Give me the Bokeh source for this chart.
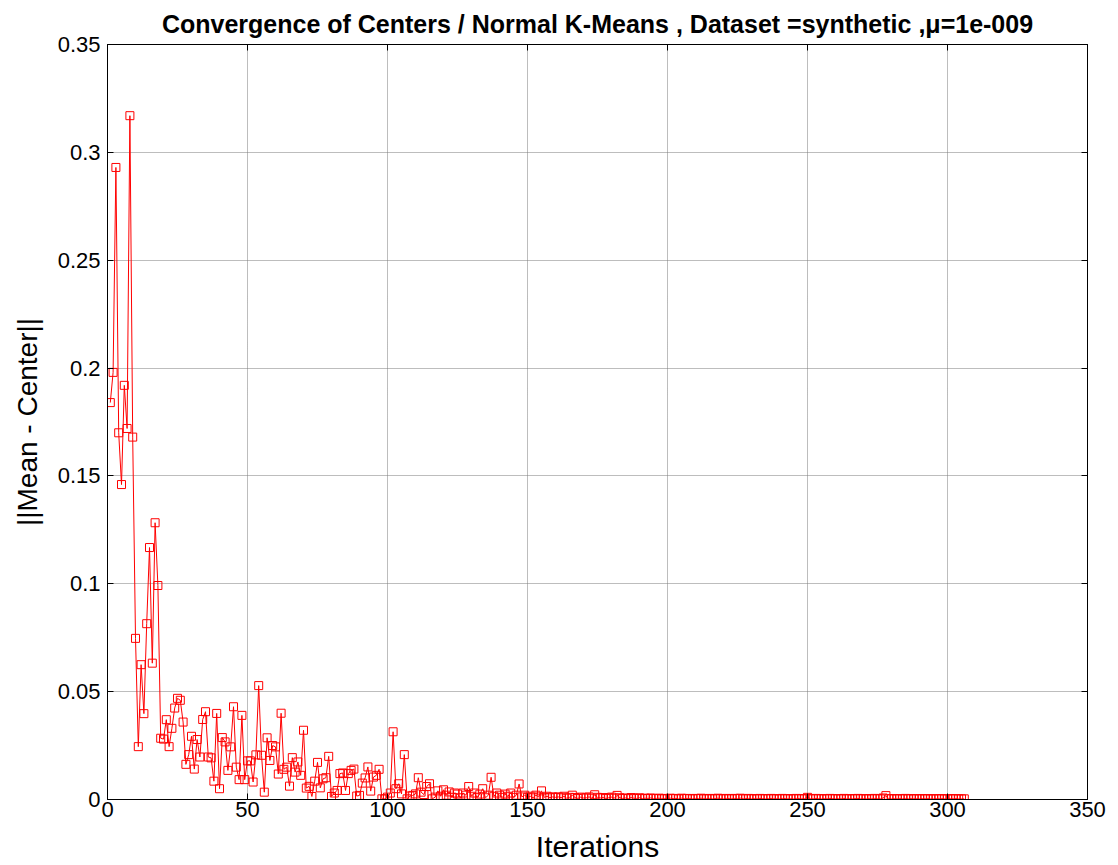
from bokeh.plotting import figure
from bokeh.models import FixedTicker, LinearAxis, Range1d
from bokeh.embed import file_html
from bokeh.resources import INLINE

# ||Mean - Center|| per iteration of normal K-Means on the synthetic dataset
distance = [
    0.184, 0.198, 0.293, 0.170, 0.146, 0.192, 0.172, 0.317, 0.168, 0.0747,
    0.0245, 0.0625, 0.0398, 0.0815, 0.1168, 0.0632, 0.1283, 0.0992, 0.0284, 0.0280,
    0.0370, 0.0245, 0.0330, 0.0424, 0.0469, 0.0460, 0.0359, 0.0163, 0.0208, 0.0293,
    0.0141, 0.0278, 0.0197, 0.0371, 0.0407, 0.0197, 0.0193, 0.0085, 0.0399, 0.0050,
    0.0287, 0.0267, 0.0135, 0.0244, 0.0430, 0.0150, 0.0092, 0.0390, 0.0092, 0.0179,
    0.0179, 0.0081, 0.0207, 0.0528, 0.0205, 0.0034, 0.0286, 0.0181, 0.0250, 0.0244,
    0.0118, 0.0400, 0.0140, 0.0150, 0.0062, 0.0194, 0.0127, 0.0174, 0.0112, 0.0321,
    0.0053, 0.0061, 0.0014, 0.0085, 0.0172, 0.0054, 0.0096, 0.0101, 0.0200, 0.0014,
    0.0030, 0.0042, 0.0120, 0.0123, 0.0042, 0.0120, 0.0135, 0.0141, 0.0016, 0.0019,
    0.0076, 0.0100, 0.0151, 0.0039, 0.0104, 0.0112, 0.0140, 0.0003, 0.0003, 0.0011,
    0.0030, 0.0314, 0.0050, 0.0073, 0.0026, 0.0208, 0.0003, 0.0016, 0.0019, 0.0026,
    0.0101, 0.0034, 0.0023, 0.0060, 0.0073, 0.0003, 0.0011, 0.0040, 0.0015, 0.0045,
    0.0020, 0.0035, 0.0010, 0.0030, 0.0025, 0.0008, 0.0030, 0.0020, 0.0060, 0.0015,
    0.0030, 0.0010, 0.0025, 0.0050, 0.0008, 0.0020, 0.0103, 0.0015, 0.0030, 0.0020,
    0.0010, 0.0025, 0.0015, 0.0030, 0.0010, 0.0020, 0.0072, 0.0012, 0.0020, 0.0010,
    0.0015, 0.0008, 0.0020, 0.0012, 0.0040, 0.0010, 0.0015, 0.0008, 0.0012, 0.0010,
    0.0012, 0.0008, 0.0015, 0.0006, 0.0010, 0.0020, 0.0009, 0.0005, 0.0011, 0.0007,
    0.0008, 0.0012, 0.0006, 0.0022, 0.0010, 0.0007, 0.0009, 0.0005, 0.0008, 0.0011,
    0.0006, 0.0019, 0.0008, 0.0005, 0.0007, 0.0004, 0.0009, 0.0006, 0.0005, 0.0008,
    0.0004, 0.0006, 0.0005, 0.0007, 0.0004, 0.0005, 0.0006, 0.0003, 0.0005, 0.0004,
    0.0006, 0.0004, 0.0005, 0.0003, 0.0006, 0.0004, 0.0005, 0.0004, 0.0003, 0.0005,
    0.0004, 0.0006, 0.0003, 0.0004, 0.0005, 0.0003, 0.0004, 0.0006, 0.0004, 0.0003,
    0.0005, 0.0004, 0.0003, 0.0005, 0.0004, 0.0006, 0.0003, 0.0004, 0.0005, 0.0003,
    0.0004, 0.0003, 0.0005, 0.0004, 0.0003, 0.0004, 0.0005, 0.0003, 0.0004, 0.0003,
    0.0005, 0.0004, 0.0003, 0.0004, 0.0003, 0.0005, 0.0004, 0.0003, 0.0004, 0.0010,
    0.0004, 0.0003, 0.0005, 0.0004, 0.0003, 0.0004, 0.0003, 0.0005, 0.0004, 0.0003,
    0.0004, 0.0003, 0.0005, 0.0003, 0.0004, 0.0003, 0.0004, 0.0005, 0.0003, 0.0004,
    0.0003, 0.0004, 0.0003, 0.0005, 0.0004, 0.0003, 0.0007, 0.0018, 0.0004, 0.0003,
    0.0004, 0.0003, 0.0004, 0.0003, 0.0005, 0.0003, 0.0004, 0.0003, 0.0004, 0.0003,
    0.0004, 0.0003, 0.0004, 0.0003, 0.0003, 0.0004, 0.0003, 0.0004, 0.0003, 0.0003,
    0.0004, 0.0003, 0.0004, 0.0003, 0.0003, 0.0003,
]
iterations = list(range(1, len(distance) + 1))

x_ticks = [0, 50, 100, 150, 200, 250, 300, 350]
y_ticks = [0, 0.05, 0.1, 0.15, 0.2, 0.25, 0.3, 0.35]
y_tick_labels = ["0", "0.05", "0.1", "0.15", "0.2", "0.25", "0.3", "0.35"]

FONT = "Liberation Sans"

p = figure(
    width=1118, height=865,
    output_backend="svg", toolbar_location=None,
    x_range=Range1d(0, 350), y_range=Range1d(0, 0.35),
    min_border_left=107, min_border_right=31,
    min_border_top=43, min_border_bottom=66,
    title="Convergence of Centers / Normal K-Means , Dataset =synthetic ,\u03bc=1e-009",
)
p.background_fill_color = "white"
p.border_fill_color = "white"
p.outline_line_color = "black"
p.outline_line_width = 1

p.title.text_font = FONT
p.title.text_font_size = "25px"
p.title.text_font_style = "bold"
p.title.text_color = "black"
p.title.align = "center"
p.title.standoff = 14

# grid
for g in (p.xgrid, p.ygrid):
    g.grid_line_color = "#7a7a7a"
    g.grid_line_dash = "1 1"
    g.grid_line_width = 1
p.xgrid.ticker = FixedTicker(ticks=x_ticks)
p.ygrid.ticker = FixedTicker(ticks=y_ticks)

# bottom and left axes
xa = p.xaxis[0]
ya = p.yaxis[0]
xa.ticker = FixedTicker(ticks=x_ticks)
ya.ticker = FixedTicker(ticks=y_ticks)
ya.major_label_overrides = {t: s for t, s in zip(y_ticks, y_tick_labels)}
xa.axis_label = "Iterations"
ya.axis_label = "||Mean - Center||"
for ax in (xa, ya):
    ax.axis_line_color = "black"
    ax.axis_line_width = 1
    ax.major_tick_line_color = "black"
    ax.major_tick_in = 6
    ax.major_tick_out = 0
    ax.minor_tick_line_color = None
    ax.major_label_text_font = FONT
    ax.major_label_text_font_size = "22px"
    ax.major_label_text_color = "black"
    ax.axis_label_text_font = FONT
    ax.axis_label_text_font_style = "normal"
    ax.axis_label_text_color = "black"
xa.axis_label_text_font_size = "30px"
ya.axis_label_text_font_size = "28px"
xa.major_label_standoff = 2
xa.axis_label_standoff = 10
ya.major_label_standoff = 7
ya.axis_label_standoff = 12

# box ticks on top and right, without labels
for side, ticks in (("above", x_ticks), ("right", y_ticks)):
    ax = LinearAxis(ticker=FixedTicker(ticks=ticks))
    ax.major_label_overrides = {t: "" for t in ticks}
    ax.axis_line_color = "black"
    ax.major_tick_line_color = "black"
    ax.major_tick_in = 6
    ax.major_tick_out = 0
    ax.minor_tick_line_color = None
    ax.major_label_standoff = 0
    p.add_layout(ax, side)

p.line(iterations, distance, line_color="red", line_width=1)
p.scatter(iterations, distance, marker="square", size=8,
          line_color="red", line_width=1, fill_alpha=0)

open("out.html", "w").write(file_html(p, INLINE))
